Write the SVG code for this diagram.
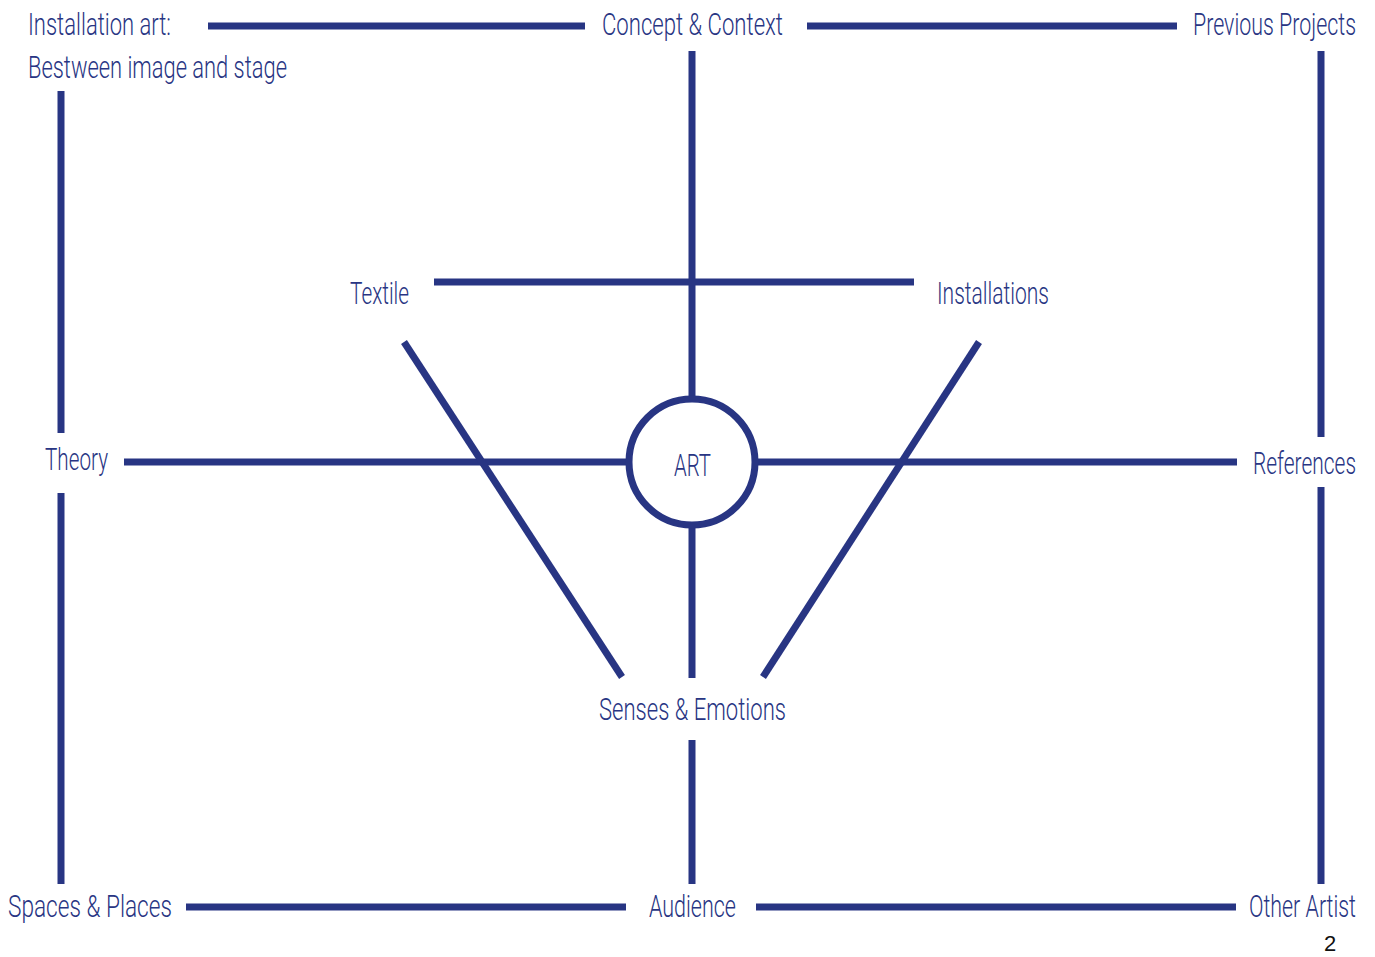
<svg xmlns="http://www.w3.org/2000/svg" width="1375" height="957" viewBox="0 0 1375 957">
<style>
.l{stroke:#283583;stroke-width:7;fill:none}
.t{font-family:Roboto,"Liberation Sans Narrow","Liberation Sans",sans-serif;font-size:31px;fill:#283583;font-weight:300}
.e{text-anchor:end}
.n{font-family:"Liberation Sans",Arial,sans-serif;font-size:22px;fill:#111}
</style>
<rect width="1375" height="957" fill="#fff"/>
<g id="connectors">
<line class="l" x1="208" y1="26" x2="585" y2="26"/>
<line class="l" x1="807" y1="26" x2="1177" y2="26"/>
<line class="l" x1="692" y1="51" x2="692" y2="398"/>
<line class="l" x1="434" y1="282" x2="914" y2="282"/>
<line class="l" x1="61" y1="91" x2="61" y2="433"/>
<line class="l" x1="61" y1="493" x2="61" y2="884"/>
<line class="l" x1="1321" y1="51" x2="1321" y2="437"/>
<line class="l" x1="1321" y1="487" x2="1321" y2="884"/>
<line class="l" x1="124" y1="462" x2="629" y2="462"/>
<line class="l" x1="755" y1="462" x2="1237" y2="462"/>
<line class="l" x1="404" y1="342" x2="622" y2="677"/>
<line class="l" x1="979" y1="342" x2="763" y2="677"/>
<line class="l" x1="692" y1="525" x2="692" y2="678"/>
<line class="l" x1="692" y1="740" x2="692" y2="884"/>
<line class="l" x1="186" y1="907" x2="626" y2="907"/>
<line class="l" x1="756" y1="907" x2="1236" y2="907"/>
</g>
<g id="installation-art" transform="scale(0.72 1)"><text class="t" x="38.89" y="35" textLength="198.61" lengthAdjust="spacingAndGlyphs">Installation art:</text><text class="t" x="38.89" y="78" textLength="359.72" lengthAdjust="spacingAndGlyphs">Bestween image and stage</text></g>
<g id="concept" transform="scale(0.72 1)"><text class="t" x="836.11" y="35" textLength="251.39" lengthAdjust="spacingAndGlyphs">Concept &amp; Context</text></g>
<g id="previous" transform="scale(0.72 1)"><text class="t e" x="1883.33" y="35" textLength="226.39" lengthAdjust="spacingAndGlyphs">Previous Projects</text></g>
<g id="textile" transform="scale(0.72 1)"><text class="t" x="486.11" y="304" textLength="81.94" lengthAdjust="spacingAndGlyphs">Textile</text></g>
<g id="installations" transform="scale(0.72 1)"><text class="t" x="1301.39" y="304" textLength="155.56" lengthAdjust="spacingAndGlyphs">Installations</text></g>
<g id="theory" transform="scale(0.72 1)"><text class="t" x="62.5" y="470" textLength="87.5" lengthAdjust="spacingAndGlyphs">Theory</text></g>
<g id="art"><circle class="l" cx="692" cy="462" r="63" fill="#fff"/><text class="t" transform="scale(0.72 1)" x="936.11" y="476" textLength="51.39" lengthAdjust="spacingAndGlyphs">ART</text></g>
<g id="references" transform="scale(0.72 1)"><text class="t e" x="1883.33" y="474" textLength="143.06" lengthAdjust="spacingAndGlyphs">References</text></g>
<g id="senses" transform="scale(0.72 1)"><text class="t" x="831.94" y="720" textLength="259.72" lengthAdjust="spacingAndGlyphs">Senses &amp; Emotions</text></g>
<g id="spaces" transform="scale(0.72 1)"><text class="t" x="11.11" y="917" textLength="227.78" lengthAdjust="spacingAndGlyphs">Spaces &amp; Places</text></g>
<g id="audience" transform="scale(0.72 1)"><text class="t" x="901.39" y="917" textLength="120.83" lengthAdjust="spacingAndGlyphs">Audience</text></g>
<g id="other" transform="scale(0.72 1)"><text class="t e" x="1883.33" y="917" textLength="148.61" lengthAdjust="spacingAndGlyphs">Other Artist</text></g>
<text class="n" x="1324" y="951">2</text>
</svg>
